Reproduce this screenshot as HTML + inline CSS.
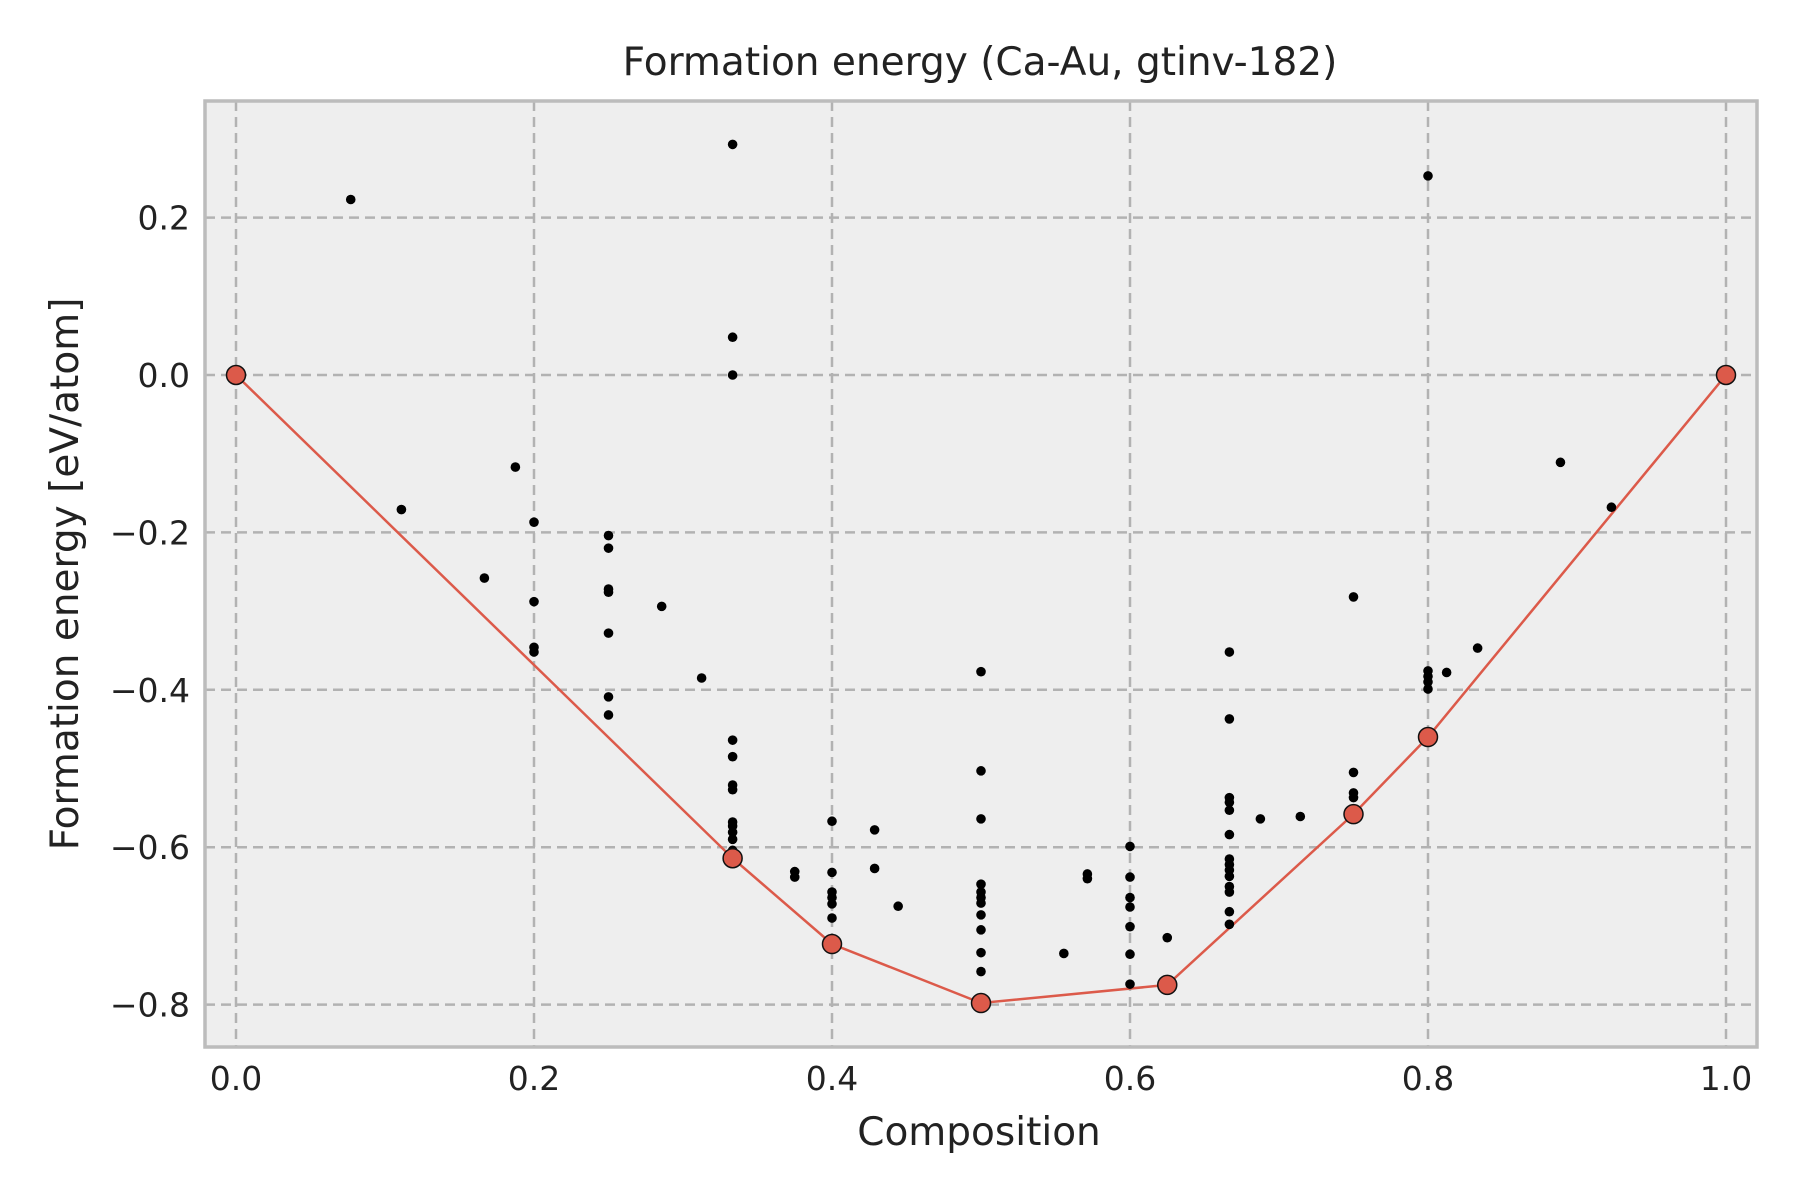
<!DOCTYPE html>
<html><head><meta charset="utf-8"><style>
html,body{margin:0;padding:0;background:#fff;}
svg{display:block;font-family:"DejaVu Sans","Liberation Sans",sans-serif;}
</style></head><body>
<svg id="chart" width="1800" height="1200" viewBox="0 0 1800 1200" xmlns="http://www.w3.org/2000/svg">
<rect x="0" y="0" width="1800" height="1200" fill="#fff"/>
<rect x="205" y="101" width="1552" height="946" fill="#eeeeee"/>
<g id="grid"></g>
<g id="hull"></g>
<g id="pts"></g>
<rect x="205" y="101" width="1552" height="946" fill="none" stroke="#bcbcbc" stroke-width="3.5"/>
<g id="ticks"></g>
<text x="980" y="75" text-anchor="middle" font-size="39" fill="#222">Formation energy (Ca-Au, gtinv-182)</text>
<text x="979" y="1145" text-anchor="middle" font-size="39" fill="#222">Composition</text>
<text transform="translate(78,574) rotate(-90)" text-anchor="middle" font-size="39" fill="#222">Formation energy [eV/atom]</text>
</svg>
<script>
const xTicks=[0,0.2,0.4,0.6,0.8,1.0];
const xTickLabels=["0.0","0.2","0.4","0.6","0.8","1.0"];
const yTicks=[0.2,0,-0.2,-0.4,-0.6,-0.8];
const yTickLabels=["0.2","0.0","\u22120.2","\u22120.4","\u22120.6","\u22120.8"];
const ptX=[0.077,0.111,0.1667,0.1875,0.2,0.2,0.2,0.2,0.25,0.25,0.25,0.25,0.25,0.25,0.25,0.2857,0.3125,
0.3333,0.3333,0.3333,0.3333,0.3333,0.3333,0.3333,0.3333,0.3333,0.3333,0.3333,0.3333,
0.375,0.375,0.4,0.4,0.4,0.4,0.4,0.4,0.4286,0.4286,0.4444,
0.5,0.5,0.5,0.5,0.5,0.5,0.5,0.5,0.5,0.5,0.5,
0.5556,0.5714,0.5714,0.6,0.6,0.6,0.6,0.6,0.6,0.6,0.625,
0.6667,0.6667,0.6667,0.6667,0.6667,0.6667,0.6667,0.6667,0.6667,0.6667,0.6667,0.6667,0.6667,0.6667,
0.6875,0.7143,0.75,0.75,0.75,0.75,0.8,0.8,0.8,0.8,0.8,0.8125,0.8333,0.8889,0.9231];
const ptY=[0.223,-0.171,-0.258,-0.117,-0.187,-0.288,-0.346,-0.352,-0.204,-0.22,-0.272,-0.276,-0.328,-0.409,-0.432,-0.294,-0.385,
0.293,0.048,0.0,-0.464,-0.485,-0.521,-0.527,-0.568,-0.573,-0.581,-0.59,-0.604,
-0.631,-0.638,-0.567,-0.632,-0.657,-0.664,-0.672,-0.69,-0.578,-0.627,-0.675,
-0.377,-0.503,-0.564,-0.647,-0.657,-0.664,-0.671,-0.686,-0.705,-0.734,-0.758,
-0.735,-0.634,-0.640,-0.599,-0.638,-0.664,-0.676,-0.701,-0.736,-0.774,-0.715,
-0.352,-0.437,-0.537,-0.543,-0.553,-0.584,-0.615,-0.622,-0.629,-0.637,-0.65,-0.657,-0.682,-0.698,
-0.564,-0.561,-0.282,-0.505,-0.531,-0.537,0.253,-0.376,-0.383,-0.39,-0.399,-0.378,-0.347,-0.111,-0.168];
const hullX=[0,0.3333,0.4,0.5,0.625,0.75,0.8,1.0];
const hullY=[0,-0.614,-0.723,-0.798,-0.775,-0.558,-0.46,0];

const NS="http://www.w3.org/2000/svg";
function sx(v){return 236+1490*v;}
function sy(v){return 375-787*v;}
function mk(tag,attrs,parent){const e=document.createElementNS(NS,tag);for(const k in attrs)e.setAttribute(k,attrs[k]);parent.appendChild(e);return e;}
const grid=document.getElementById('grid'),ticks=document.getElementById('ticks');
xTicks.forEach((v,i)=>{
  const l=mk('line',{x1:sx(v),x2:sx(v),y1:101,y2:1047,stroke:'#b2b2b2','stroke-width':2.5,'stroke-dasharray':'10,6'},grid);
  
  
  const t=mk('text',{x:sx(v),y:1090,'text-anchor':'middle','font-size':33,fill:'#222'},ticks);
  t.textContent=xTickLabels[i];
  
  
});
yTicks.forEach((v,i)=>{
  const l=mk('line',{x1:205,x2:1757,y1:sy(v),y2:sy(v),stroke:'#b2b2b2','stroke-width':2.5,'stroke-dasharray':'10,6'},grid);
  
  
  const t=mk('text',{x:190,y:sy(v)+12,'text-anchor':'end','font-size':33,fill:'#222'},ticks);
  t.textContent=yTickLabels[i];
  
  
});
const pts=document.getElementById('pts');
ptX.forEach((x,i)=>{
  const c=mk('circle',{cx:sx(x),cy:sy(ptY[i]),r:4.8,fill:'#000'},pts);
  
  
});
const hull=document.getElementById('hull');
const pl=mk('polyline',{points:hullX.map((x,i)=>sx(x)+','+sy(hullY[i])).join(' '),fill:'none',stroke:'#dc5a4a','stroke-width':2.5},hull);


hullX.forEach((x,i)=>{
  const c=mk('circle',{cx:sx(x),cy:sy(hullY[i]),r:9.5,fill:'#dc5a4a',stroke:'#111','stroke-width':1.5},pts);
  
  
});
</script>
</body></html>
